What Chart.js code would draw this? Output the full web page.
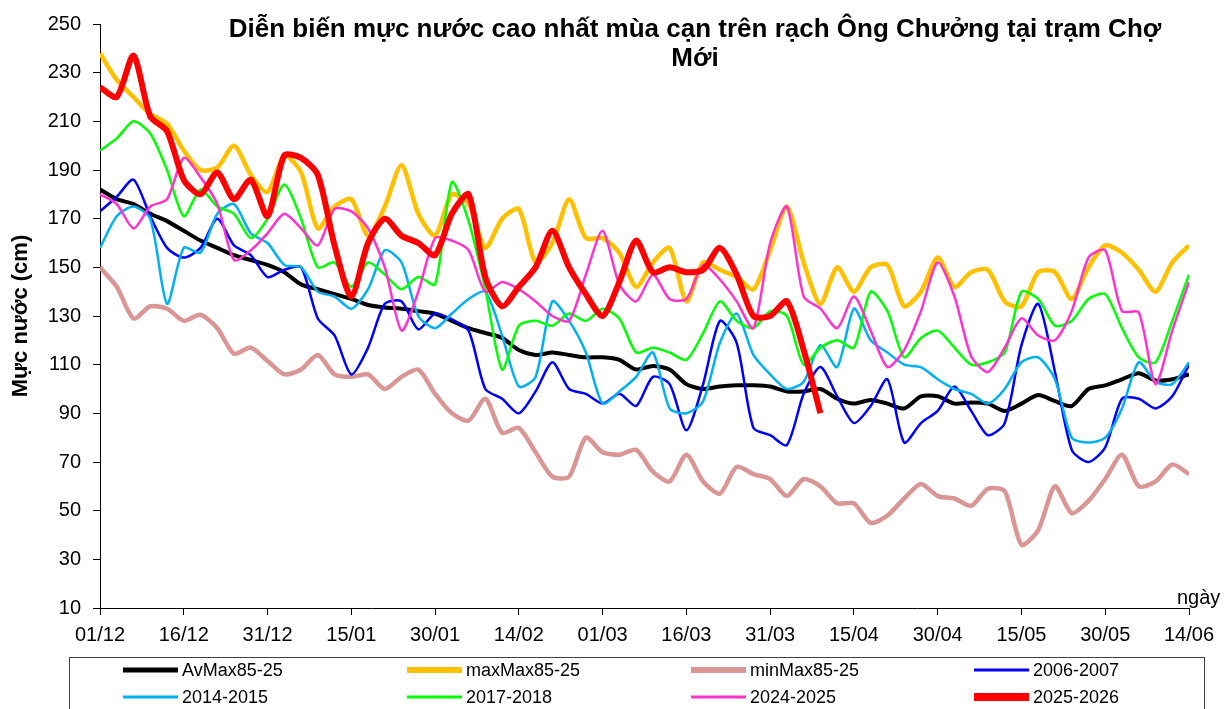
<!DOCTYPE html>
<html lang="vi">
<head>
<meta charset="UTF-8">
<title>Mực nước cao nhất mùa cạn - Chợ Mới</title>
<script src="https://cdn.jsdelivr.net/npm/chart.js"></script>
<style>
  html, body { margin: 0; padding: 0; background: #fff; }
  #wrap { width: 1230px; height: 709px; position: relative; }
</style>
</head>
<body>
<div id="wrap"><canvas id="chart"></canvas></div>
<script>
// ngày tính từ 01/12, mỗi 3 ngày một giá trị
const days = [0,3,6,9,12,15,18,21,24,27,30,33,36,39,42,45,48,51,54,57,60,63,66,69,72,75,78,81,84,87,90,93,96,99,102,105,108,111,114,117,120,123,126,129,132,135,138,141,144,147,150,153,156,159,162,165,168,171,174,177,180,183,186,189,192,195];
const xLabels = ['01/12','16/12','31/12','15/01','30/01','14/02','01/03','16/03','31/03','15/04','30/04','15/05','30/05','14/06'];

const avMax  = [182,178,176,172,169,165,161,158,155,153,151,148,143,141,139,137,134.5,133.5,133,132,131,128,125,123,121,116,114,115,114,113,113,112,108,109.5,108,102,100,101,101.5,101.5,101,99,99,100,96,94,95.5,94,92,97,97,94,94.5,94,91,94,97.5,95,93,100,101.5,104,106.5,103.5,104,106];
const maxMax = [238,227,220,213,209,198,190,191,200,188,181,196,189,166,175,178,163,175,192,172,163,180,176,158,170,174,152,160,178,162,162,156,142,152,158,136,152,149,146,141,157,175,152,135,150,140,150,151,134,140,154,142,148,149,136,134,148,148,137,150,159,156,149,140,152,159];
const minMax = [150,142,129,134,133,128,130.5,125,114.5,117,111.5,106,108,114,106,105,106,100,105,108,98,90,87,96,82,84,74,64,64,80,74,73,75,66,62,73,62,57,68,65,63,56,63,60,53,53,45,48,55,61,56,55,52,59,58,36,42,60,49,54,63,73,60,62,69,65];
const s0607  = [173,179,186,171,158,154,158,170,159,155,146,149,150,129,122,106,117,135,136,124.5,131,128.6,124,100,96,90,99,111,100,98,94,98,93,105,102,83,102,128,119,84,81,77,98,109,97,86,93,104,78,86,91,101,91,81,86,118,135,107,75,70,76,96,96,92,97,110];
const s1415  = [158,171,175,170,135,158,156,172,176,164,160,151,150,140,138,133,141,157,152,130,125,131,137,140,122,101,105,136,128,115,94,99,105,115,92,90,95,119,131,114,106,100,103,118,109,133,120,115,110,109,104,100,98,94,100,111,113,104,80,78,80,92,111,103,102,111];
const s1718  = [198,203,210,205,190,171,182,175,172,162,170,184,170,150,152,142,152,147,141,146,143,185,169,141,108,126,128,126,131,128,133,129,115,117,115,112,123,136,128,125,132,130,110,117,120,117,140,132,113,121,124,117,110,111,115,140,137,126,128,137,139,125,113,111,128,147];
const s2425  = [180,176,166,175,178,195,187,176,153,157,164,172,166,159,174,173,166,150,124,140,162,161,157,140,144,141,136,130,128,147,165,143,136,147,137,137,151,145,136,125,160,175,138,133,125,138,124,109,116,132,152,138,113.5,107,117,129,122,120,132,154,157,132,131.5,102,124,144];
const s2526  = [224,220,237,212,206,186,180,189,178,186,171,196,195,188,159,138,160,170,163,160,155,172,180,146,134,142,150,165,150,139,130,144,161,148,150,148,149,158,147,130,130,136,116,90];

const series = [
  { label: 'AvMax85-25',  values: avMax,  color: '#000000', width: 4,   legendWidth: 5 },
  { label: 'maxMax85-25', values: maxMax, color: '#FFC000', width: 4.5, legendWidth: 6 },
  { label: 'minMax85-25', values: minMax, color: '#D99694', width: 4.5, legendWidth: 6 },
  { label: '2006-2007',   values: s0607,  color: '#0000FF', width: 2.5, legendWidth: 3 },
  { label: '2014-2015',   values: s1415,  color: '#00B0F0', width: 2.5, legendWidth: 3 },
  { label: '2017-2018',   values: s1718,  color: '#00FF00', width: 2.5, legendWidth: 3 },
  { label: '2024-2025',   values: s2425,  color: '#FF33CC', width: 2.5, legendWidth: 3 },
  { label: '2025-2026',   values: s2526,  color: '#FF0000', width: 6,   legendWidth: 8 }
];

const FONT = '"Liberation Sans", Arial, sans-serif';

// tiêu đề, chữ "ngày" và chú giải vẽ tay
const decorPlugin = {
  id: 'decor',
  afterDraw(chart) {
    const ctx = chart.ctx;
    ctx.save();
    ctx.fillStyle = '#000';
    ctx.textAlign = 'center';
    ctx.textBaseline = 'alphabetic';
    ctx.font = 'bold 26px ' + FONT;
    ctx.fillText('Diễn biến mực nước cao nhất mùa cạn trên rạch Ông Chưởng tại trạm Chợ', 695, 37);
    ctx.fillText('Mới', 695, 66);

    ctx.textAlign = 'left';
    ctx.font = '20px ' + FONT;
    ctx.fillText('ngày', 1177, 604);

    // khung chú giải
    ctx.strokeStyle = '#404040';
    ctx.lineWidth = 1;
    ctx.strokeRect(69.5, 657.5, 1135, 70);

    const cols = [123, 407, 691, 974];
    const rows = [670, 697];
    ctx.font = '18px ' + FONT;
    ctx.textBaseline = 'middle';
    chart.data.datasets.forEach((ds, i) => {
      const x = cols[i % 4];
      const y = rows[Math.floor(i / 4)];
      ctx.beginPath();
      ctx.strokeStyle = ds.borderColor;
      ctx.lineWidth = series[i].legendWidth;
      ctx.lineCap = 'butt';
      ctx.moveTo(x, y);
      ctx.lineTo(x + 55, y);
      ctx.stroke();
      ctx.fillStyle = '#000';
      ctx.fillText(ds.label, x + 59, y + 1);
    });
    ctx.restore();
  }
};

new Chart(document.getElementById('chart'), {
  type: 'line',
  data: {
    datasets: series.map((s, i) => ({
      label: s.label,
      data: s.values.map((v, j) => ({ x: days[j], y: v })),
      borderColor: s.color,
      backgroundColor: s.color,
      borderWidth: s.width,
      pointRadius: 0,
      tension: 0.25,
      fill: false,
      order: series.length - 1 - i
    }))
  },
  options: {
    responsive: true,
    maintainAspectRatio: false,
    animation: false,
    devicePixelRatio: 1,
    layout: { padding: { top: 23, right: 41, bottom: 0, left: 0 } },
    plugins: {
      legend: { display: false },
      tooltip: { enabled: false },
      title: { display: false }
    },
    scales: {
      x: {
        type: 'linear',
        min: 0,
        max: 195,
        afterFit: (scale) => { scale.height = 101; },
        ticks: {
          stepSize: 15,
          autoSkip: false,
          maxRotation: 0,
          padding: 8,
          color: '#000',
          font: { family: FONT, size: 20 },
          callback: (v) => xLabels[Math.round(v / 15)]
        },
        grid: { drawOnChartArea: false, drawTicks: true, tickLength: 7, color: '#000' },
        border: { color: '#000', width: 1 }
      },
      y: {
        min: 10,
        max: 250,
        afterFit: (scale) => { scale.width = 100; },
        ticks: {
          stepSize: 20,
          padding: 12,
          color: '#000',
          font: { family: FONT, size: 20 }
        },
        grid: { drawOnChartArea: false, drawTicks: true, tickLength: 7, color: '#000' },
        border: { color: '#000', width: 1 },
        title: {
          display: true,
          text: 'Mực nước (cm)',
          color: '#000',
          font: { family: FONT, size: 22, weight: 'bold' },
          padding: { top: 8, bottom: 0 }
        }
      }
    }
  },
  plugins: [decorPlugin]
});
</script>
</body>
</html>
